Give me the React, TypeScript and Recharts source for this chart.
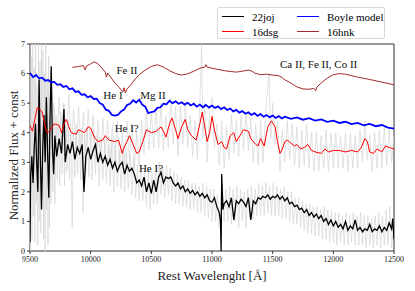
import React from 'react';
import {
  LineChart,
  Line,
  XAxis,
  YAxis,
  ReferenceArea,
  ReferenceDot,
} from 'recharts';

// wavelength grid is per-series
const hnkWave = [9850, 9900, 9940, 9955, 9965, 10000, 10030, 10060, 10100, 10120, 10130, 10140, 10170, 10200, 10230, 10250, 10265, 10275, 10285, 10300, 10330, 10360, 10400, 10450, 10500, 10550, 10600, 10650, 10700, 10750, 10800, 10850, 10900, 10940, 10950, 10960, 11000, 11050, 11100, 11150, 11200, 11250, 11300, 11330, 11350, 11400, 11450, 11500, 11550, 11580, 11600, 11650, 11700, 11750, 11800, 11840, 11855, 11865, 11900, 11950, 12000, 12050, 12100, 12150, 12200, 12300, 12400, 12500];
const hnkFlux = [6.21, 6.24, 6.27, 6.12, 6.25, 6.33, 6.4, 6.33, 6.15, 6.05, 5.88, 6.02, 5.85, 5.68, 5.55, 5.45, 5.38, 5.52, 5.35, 5.48, 5.62, 5.78, 5.96, 6.12, 6.24, 6.3, 6.22, 6.1, 6.0, 5.95, 5.99, 6.08, 6.18, 6.22, 6.3, 6.22, 6.18, 6.14, 6.1, 6.07, 6.05, 6.08, 6.12, 6.08, 6.02, 5.96, 5.98, 5.95, 5.93, 5.86, 5.79, 5.68, 5.55, 5.48, 5.47, 5.5, 5.42, 5.55, 5.68, 5.85, 5.96, 6.0, 5.98, 5.93, 5.88, 5.8, 5.71, 5.62];

const boyleWave = [9500, 9525, 9550, 9575, 9600, 9625, 9650, 9675, 9700, 9725, 9750, 9775, 9800, 9825, 9850, 9875, 9900, 9925, 9950, 9975, 10000, 10025, 10050, 10075, 10100, 10125, 10150, 10175, 10200, 10225, 10250, 10275, 10300, 10325, 10350, 10375, 10400, 10425, 10450, 10475, 10500, 10525, 10550, 10575, 10600, 10625, 10650, 10675, 10700, 10725, 10750, 10775, 10800, 10825, 10850, 10875, 10900, 10925, 10950, 10975, 11000, 11025, 11050, 11075, 11100, 11125, 11150, 11175, 11200, 11225, 11250, 11275, 11300, 11325, 11350, 11375, 11400, 11425, 11450, 11475, 11500, 11525, 11550, 11575, 11600, 11650, 11700, 11750, 11800, 11850, 11900, 11950, 12000, 12050, 12100, 12150, 12200, 12250, 12300, 12350, 12400, 12450, 12500];
const boyleFlux = [6.02, 5.88, 5.95, 5.84, 5.86, 5.76, 5.78, 5.7, 5.72, 5.62, 5.64, 5.55, 5.58, 5.47, 5.5, 5.38, 5.4, 5.28, 5.3, 5.2, 5.24, 5.14, 5.15, 5.0, 4.95, 4.78, 4.74, 4.6, 4.58, 4.6, 4.72, 4.78, 4.94, 4.98, 5.1, 5.02, 5.12, 4.95, 4.88, 4.66, 4.7, 4.72, 4.84, 4.86, 4.98, 4.96, 5.08, 5.0, 5.06, 4.98, 5.03, 4.95, 5.01, 4.92, 4.98, 4.88, 4.95, 4.86, 4.94, 4.85, 4.92, 4.84, 4.89, 4.8, 4.86, 4.77, 4.82, 4.72, 4.77, 4.68, 4.73, 4.64, 4.69, 4.6, 4.66, 4.57, 4.63, 4.54, 4.6, 4.52, 4.58, 4.5, 4.56, 4.48, 4.54, 4.47, 4.52, 4.44, 4.49, 4.41, 4.45, 4.37, 4.41, 4.33, 4.37, 4.29, 4.33, 4.25, 4.3, 4.22, 4.26, 4.17, 4.14];

const dsgWave = [9500, 9520, 9560, 9580, 9600, 9620, 9640, 9660, 9700, 9740, 9760, 9780, 9800, 9820, 9840, 9880, 9900, 9950, 9980, 10000, 10030, 10060, 10100, 10120, 10150, 10200, 10230, 10260, 10280, 10300, 10320, 10350, 10380, 10400, 10430, 10460, 10500, 10540, 10580, 10600, 10620, 10650, 10670, 10700, 10720, 10750, 10780, 10800, 10830, 10870, 10900, 10920, 10940, 10960, 10980, 11000, 11020, 11050, 11080, 11100, 11120, 11150, 11180, 11200, 11230, 11260, 11300, 11320, 11350, 11380, 11400, 11430, 11460, 11490, 11520, 11540, 11560, 11580, 11600, 11620, 11650, 11680, 11700, 11730, 11760, 11790, 11820, 11850, 11900, 11930, 11960, 12000, 12050, 12100, 12150, 12200, 12230, 12260, 12280, 12300, 12330, 12360, 12400, 12430, 12460, 12500];
const dsgFlux = [4.25, 4.05, 4.85, 4.8, 4.7, 4.3, 4.0, 4.05, 4.3, 4.25, 4.0, 4.3, 4.45, 4.2, 4.0, 3.95, 4.1, 4.0, 4.2, 4.15, 3.85, 3.7, 3.75, 3.9, 3.75, 3.7, 3.75, 3.3, 3.55, 3.7, 3.9, 3.6, 3.3, 3.35, 3.7, 4.1, 4.0, 4.05, 4.2, 4.05, 3.85, 4.3, 4.5, 4.1, 3.8, 4.2, 4.45, 4.1, 3.9, 3.75, 4.3, 4.7, 4.2, 3.7, 4.0, 4.55, 4.1, 3.6, 3.7, 3.5, 3.45, 3.9, 4.0, 3.7, 3.9, 4.1, 4.05, 3.8, 3.65, 3.55, 3.8, 3.55, 4.2, 4.4, 4.2, 3.7, 3.3, 3.45, 3.7, 3.75, 3.65, 3.55, 3.6, 3.45, 3.5, 3.6, 3.4, 3.35, 3.3, 3.45, 3.35, 3.4, 3.4, 3.35, 3.4, 3.35, 3.5, 3.8, 3.7, 3.35, 3.3, 3.45, 3.35, 3.55, 3.5, 3.45];

const jojWave = [9500, 9505, 9515, 9525, 9535, 9545, 9555, 9565, 9575, 9585, 9595, 9605, 9615, 9625, 9635, 9645, 9655, 9665, 9675, 9685, 9695, 9705, 9720, 9740, 9760, 9780, 9790, 9810, 9830, 9850, 9870, 9890, 9910, 9930, 9945, 9960, 9980, 10000, 10020, 10040, 10060, 10080, 10100, 10120, 10140, 10160, 10180, 10200, 10220, 10240, 10260, 10280, 10300, 10320, 10340, 10360, 10380, 10400, 10420, 10440, 10460, 10480, 10500, 10520, 10540, 10560, 10580, 10600, 10620, 10640, 10660, 10680, 10700, 10720, 10740, 10760, 10780, 10800, 10820, 10840, 10860, 10880, 10900, 10920, 10940, 10960, 10980, 11000, 11020, 11040, 11060, 11070, 11075, 11080, 11090, 11100, 11120, 11140, 11160, 11180, 11200, 11220, 11240, 11260, 11280, 11300, 11320, 11340, 11360, 11380, 11400, 11420, 11440, 11460, 11480, 11500, 11520, 11540, 11560, 11580, 11600, 11620, 11640, 11660, 11680, 11700, 11720, 11740, 11760, 11780, 11800, 11820, 11840, 11860, 11880, 11900, 11920, 11940, 11960, 11980, 12000, 12020, 12040, 12060, 12080, 12100, 12120, 12140, 12160, 12180, 12200, 12220, 12240, 12260, 12280, 12300, 12320, 12340, 12360, 12380, 12400, 12420, 12440, 12460, 12480, 12490, 12500];
const jojFlux = [0.3, 2.5, 3.2, 2.3, 3.5, 4.3, 3.0, 2.0, 5.8, 3.2, 1.4, 3.5, 4.6, 3.0, 5.2, 3.3, 1.8, 4.5, 6.25, 3.5, 2.6, 3.9, 3.2, 3.8, 3.3, 4.8, 3.0, 3.6, 3.3, 3.7, 3.1, 3.5, 3.3, 3.6, 2.0, 3.2, 3.5, 3.1, 3.4, 3.6, 3.0, 3.3, 3.0, 3.2, 2.9, 3.1, 2.8, 3.0, 2.7, 2.9, 3.0, 2.6, 2.9, 2.7, 2.8, 2.6, 2.3, 2.4, 2.2, 2.5, 2.0, 2.3, 1.95, 2.4, 2.0, 2.5, 2.65, 2.3, 2.5, 2.45, 2.5, 2.3, 2.2, 2.3, 2.1, 2.2, 2.0, 2.1, 1.95, 2.05, 1.9, 2.0, 1.85, 1.95, 1.8, 1.9, 1.7, 1.65, 1.8, 1.5, 1.3, 1.0, 0.0, 2.6, 1.4, 1.6, 1.7, 1.5, 1.8, 1.05, 1.7, 1.6, 1.75, 1.65, 1.5, 1.8, 1.05, 1.7, 1.6, 1.8, 1.75, 1.85, 1.8, 1.9, 1.75, 1.85, 1.8, 1.9, 1.75, 1.85, 1.7, 1.8, 1.6, 1.65, 1.5, 1.55, 1.4, 1.45, 1.3, 1.4, 1.2, 1.3, 1.15, 1.25, 1.1, 1.2, 1.0, 1.1, 0.9, 1.05, 0.85, 1.0, 0.8, 0.9, 0.75, 1.0, 0.7, 0.85, 0.75, 1.05, 0.7, 0.8, 0.65, 0.75, 0.7, 0.9, 0.65, 0.75, 0.7, 0.85, 0.65, 0.8, 0.7, 0.95, 0.75, 1.1, 0.4];

const rawJojWave = [9500, 9504, 9510, 9516, 9522, 9528, 9534, 9540, 9546, 9552, 9558, 9564, 9570, 9576, 9582, 9588, 9594, 9600, 9606, 9612, 9618, 9624, 9630, 9636, 9642, 9648, 9654, 9660, 9666, 9672, 9680, 9688, 9696, 9705, 9715, 9725, 9735, 9745, 9755, 9765, 9775, 9785, 9795, 9805, 9815, 9825, 9835, 9848, 9858, 9870, 9880, 9892, 9905, 9918, 9930, 9938, 9948, 9960, 9972, 9985, 10000, 10012, 10025, 10040, 10055, 10070, 10085, 10100, 10115, 10130, 10145, 10160, 10175, 10190, 10205, 10220, 10235, 10250, 10265, 10280, 10295, 10310, 10325, 10340, 10355, 10370, 10385, 10400, 10415, 10430, 10445, 10460, 10475, 10490, 10505, 10520, 10535, 10550, 10565, 10580, 10595, 10610, 10625, 10640, 10655, 10670, 10685, 10700, 10715, 10730, 10745, 10760, 10775, 10790, 10805, 10820, 10835, 10850, 10865, 10880, 10895, 10910, 10925, 10940, 10955, 10970, 10985, 11000, 11015, 11030, 11045, 11060, 11085, 11100, 11115, 11130, 11145, 11160, 11175, 11190, 11205, 11220, 11235, 11250, 11265, 11280, 11295, 11310, 11325, 11340, 11355, 11370, 11385, 11400, 11415, 11430, 11445, 11460, 11475, 11490, 11505, 11520, 11535, 11550, 11565, 11580, 11595, 11610, 11625, 11640, 11655, 11670, 11685, 11700, 11715, 11730, 11745, 11760, 11775, 11790, 11805, 11820, 11835, 11850, 11865, 11880, 11895, 11910, 11925, 11940, 11955, 11970, 11985, 12000, 12015, 12030, 12045, 12060, 12075, 12090, 12105, 12120, 12135, 12150, 12165, 12180, 12195, 12210, 12225, 12240, 12255, 12270, 12285, 12300, 12315, 12330, 12345, 12360, 12375, 12390, 12405, 12420, 12435, 12450, 12465, 12480, 12500];
const rawJojFlux = [7, 0, 6.6, 0.4, 7, 1.2, 6.2, 0.3, 7, 1.6, 5.6, 0.2, 7, 1.0, 6.4, 0.6, 7, 1.8, 6.8, 0.4, 6.0, 0.0, 7, 1.4, 5.8, 0.2, 6.6, 0.8, 5.2, 1.6, 5.4, 2.0, 5.0, 1.6, 4.6, 2.4, 4.4, 2.2, 4.7, 2.6, 5.0, 2.2, 4.3, 2.7, 4.4, 2.4, 4.2, 0.8, 4.0, 2.5, 4.3, 2.6, 4.1, 2.4, 4.0, 1.3, 3.9, 2.6, 4.2, 2.5, 4.0, 2.4, 4.1, 2.6, 3.9, 2.2, 3.8, 2.4, 3.7, 2.3, 3.6, 2.2, 3.7, 2.0, 3.6, 2.2, 3.4, 2.1, 3.5, 2.0, 3.3, 2.1, 3.3, 1.9, 3.2, 1.8, 2.9, 1.7, 2.9, 1.7, 2.8, 1.5, 2.8, 1.4, 2.7, 1.6, 2.9, 1.6, 3.0, 1.9, 2.8, 1.8, 2.9, 1.9, 2.8, 1.7, 2.7, 1.6, 2.6, 1.6, 2.5, 1.5, 2.4, 1.5, 2.4, 1.4, 2.3, 1.4, 2.3, 1.3, 2.2, 1.3, 2.3, 1.2, 2.2, 1.1, 2.1, 1.0, 2.1, 1.0, 1.9, 0.8, 2.2, 1.0, 2.1, 1.0, 2.2, 0.9, 2.1, 1.0, 2.2, 0.8, 2.1, 1.0, 2.0, 0.8, 2.1, 1.1, 2.2, 1.1, 2.1, 1.2, 2.3, 1.2, 2.2, 1.2, 2.3, 1.3, 2.2, 1.2, 2.3, 1.2, 2.2, 1.2, 2.1, 1.1, 2.2, 1.1, 2.0, 1.0, 2.0, 0.9, 1.8, 0.9, 1.8, 0.8, 1.7, 0.7, 1.6, 0.6, 1.6, 0.6, 1.5, 0.5, 1.5, 0.5, 1.4, 0.4, 1.5, 0.4, 1.4, 0.3, 1.4, 0.3, 1.3, 0.2, 1.3, 0.3, 1.2, 0.2, 1.3, 0.2, 1.2, 0.3, 1.3, 0.2, 1.2, 0.2, 1.3, 0.2, 1.2, 0.1, 1.2, 0.2, 1.1, 0.1, 1.2, 0.2, 1.3, 0.1, 1.2, 0.2, 1.4, 0.2, 1.5, 0.1, 1.0];

const rawDsgWave = [9700, 9720, 9740, 9760, 9780, 9800, 9820, 9840, 9860, 9880, 9900, 9920, 9940, 9960, 9980, 10000, 10020, 10040, 10060, 10080, 10100, 10120, 10140, 10160, 10180, 10200, 10220, 10240, 10260, 10280, 10300, 10320, 10340, 10360, 10380, 10400, 10420, 10440, 10460, 10480, 10500, 10520, 10540, 10560, 10580, 10600, 10620, 10640, 10660, 10680, 10700, 10720, 10740, 10760, 10780, 10800, 10820, 10840, 10860, 10880, 10900, 10915, 10925, 10940, 10960, 10980, 11000, 11020, 11040, 11060, 11080, 11100, 11120, 11140, 11160, 11180, 11200, 11220, 11240, 11260, 11280, 11300, 11320, 11340, 11360, 11380, 11400, 11420, 11440, 11470, 11485, 11500, 11520, 11540, 11560, 11580, 11600, 11620, 11640, 11660, 11680, 11700, 11720, 11740, 11760, 11780, 11800, 11820, 11840, 11860, 11880, 11900, 11920, 11940, 11960, 11980, 12000, 12020, 12040, 12060, 12080, 12100, 12120, 12140, 12160, 12180, 12200, 12220, 12240, 12260, 12280, 12300, 12320, 12340, 12360, 12380, 12400, 12420, 12440, 12460, 12480, 12500];
const rawDsgFlux = [4.9, 3.6, 5.2, 3.4, 5.0, 3.7, 5.3, 3.4, 4.8, 3.3, 4.9, 3.4, 4.7, 3.3, 4.8, 3.5, 4.6, 3.1, 4.4, 3.1, 4.5, 3.2, 4.4, 3.0, 4.3, 3.0, 4.4, 2.8, 4.0, 2.9, 4.4, 3.1, 4.3, 2.8, 4.0, 2.9, 4.4, 3.3, 4.8, 3.4, 4.7, 3.5, 4.8, 3.5, 5.0, 3.4, 4.6, 3.5, 5.2, 3.6, 4.9, 3.2, 4.9, 3.6, 5.1, 3.5, 4.6, 3.2, 4.4, 3.1, 5.0, 7.0, 3.8, 5.0, 3.0, 4.7, 5.2, 3.5, 4.3, 2.9, 4.4, 2.8, 4.2, 3.1, 4.6, 3.3, 4.4, 3.2, 4.6, 3.4, 4.7, 3.4, 4.5, 3.0, 4.3, 2.9, 4.4, 3.0, 4.6, 6.0, 3.8, 5.0, 3.6, 4.4, 2.7, 4.1, 3.0, 4.4, 3.1, 4.3, 2.9, 4.2, 2.8, 4.1, 2.9, 4.3, 2.8, 4.0, 2.7, 4.0, 2.7, 3.9, 2.8, 4.1, 2.7, 4.0, 2.8, 4.0, 2.8, 3.9, 2.8, 4.0, 2.7, 4.0, 2.8, 3.9, 2.8, 4.1, 3.0, 4.4, 3.1, 3.9, 2.7, 4.0, 2.8, 4.1, 2.8, 4.2, 2.9, 4.1, 3.0, 3.9];

const xTicks = [9500, 10000, 10500, 11000, 11500, 12000, 12500];
const yTicks = [0, 1, 2, 3, 4, 5, 6, 7];

const legendItems = [
  { name: '22joj', color: '#000000' },
  { name: 'Boyle model', color: '#0000ff' },
  { name: '16dsg', color: '#ff0000' },
  { name: '16hnk', color: '#a52a2a' },
];

const notes = [
  { x: 10299, y: 6.11, text: 'Fe II' },
  { x: 11879, y: 6.33, text: 'Ca II, Fe II, Co II' },
  { x: 10184, y: 5.27, text: 'He I' },
  { x: 10514, y: 5.27, text: 'Mg II' },
  { x: 10297, y: 4.14, text: 'He I?' },
  { x: 10497, y: 2.81, text: 'He I?' },
];

const FONT = '"Liberation Serif", "DejaVu Serif", serif';

const zip = (w: number[], f: number[]) => w.map((v, i) => ({ w: v, f: f[i] }));

const series = [
  { key: 'rawJoj', data: zip(rawJojWave, rawJojFlux), color: '#d6d6d6', width: 0.7 },
  { key: 'rawDsg', data: zip(rawDsgWave, rawDsgFlux), color: '#d6d6d6', width: 0.7 },
  { key: 'joj', data: zip(jojWave, jojFlux), color: '#000000', width: 1.3 },
  { key: 'dsg', data: zip(dsgWave, dsgFlux), color: '#ff0000', width: 1 },
  { key: 'boyle', data: zip(boyleWave, boyleFlux), color: '#0000ff', width: 1.8 },
  { key: 'hnk', data: zip(hnkWave, hnkFlux), color: '#a52a2a', width: 1 },
];

const Legend = () => (
  <div
    style={{
      position: 'absolute',
      left: 217,
      top: 7,
      width: 168,
      height: 32,
      border: '1px solid #d8d8d8',
      borderRadius: 2,
      background: '#fff',
      boxSizing: 'border-box',
      fontFamily: FONT,
      fontSize: 11,
      display: 'grid',
      gridTemplateColumns: '75px 90px',
      padding: '1px 0 0 4px',
    }}
  >
    {legendItems.map((it) => (
      <div key={it.name} style={{ display: 'flex', alignItems: 'center', height: 15 }}>
        <span style={{ width: 22, height: 1, background: it.color, marginRight: 8 }} />
        <span>{it.name}</span>
      </div>
    ))}
  </div>
);

export default function App() {
  return (
    <div style={{ position: 'absolute', left: 0, top: 0, width: 415, height: 291, background: '#fff' }}>
      <LineChart width={415} height={291} margin={{ top: 44, right: 21, bottom: 0, left: 4 }}>
        <XAxis
          type="number"
          dataKey="w"
          domain={[9500, 12500]}
          ticks={xTicks}
          allowDataOverflow
          tick={{ fontSize: 8, fill: '#222', fontFamily: FONT }}
          tickSize={3}
          tickLine={{ stroke: '#333' }}
          axisLine={false}
          height={40}
          label={{ value: 'Rest Wavelenght [Å]', position: 'insideBottom', offset: 11, style: { fontSize: 13, fill: '#222', fontFamily: FONT } }}
        />
        <YAxis
          type="number"
          domain={[0, 7]}
          ticks={yTicks}
          allowDataOverflow
          tick={{ fontSize: 8, fill: '#222', fontFamily: FONT }}
          tickSize={3}
          tickLine={{ stroke: '#333' }}
          axisLine={false}
          width={26}
          label={{ value: 'Normalized Flux + const', angle: -90, position: 'center', dx: -4, dy: 8, style: { fontSize: 13, fill: '#222', fontFamily: FONT, textAnchor: 'middle' } }}
        />
        {series.map((s) => (
          <Line
            key={s.key}
            data={s.data}
            dataKey="f"
            type="linear"
            stroke={s.color}
            strokeWidth={s.width}
            dot={false}
            activeDot={false}
            isAnimationActive={false}
          />
        ))}
        {notes.map((n, i) => (
          <ReferenceDot
            key={i}
            x={n.x}
            y={n.y}
            r={0}
            fill="none"
            stroke="none"
            label={{ value: n.text, position: 'center', style: { fontSize: 11, fill: '#111', fontFamily: FONT } }}
          />
        ))}
        <ReferenceArea x1={9500} x2={12500} y1={0} y2={7} fill="none" stroke="#333" strokeWidth={1} />
      </LineChart>
      <Legend />
    </div>
  );
}
